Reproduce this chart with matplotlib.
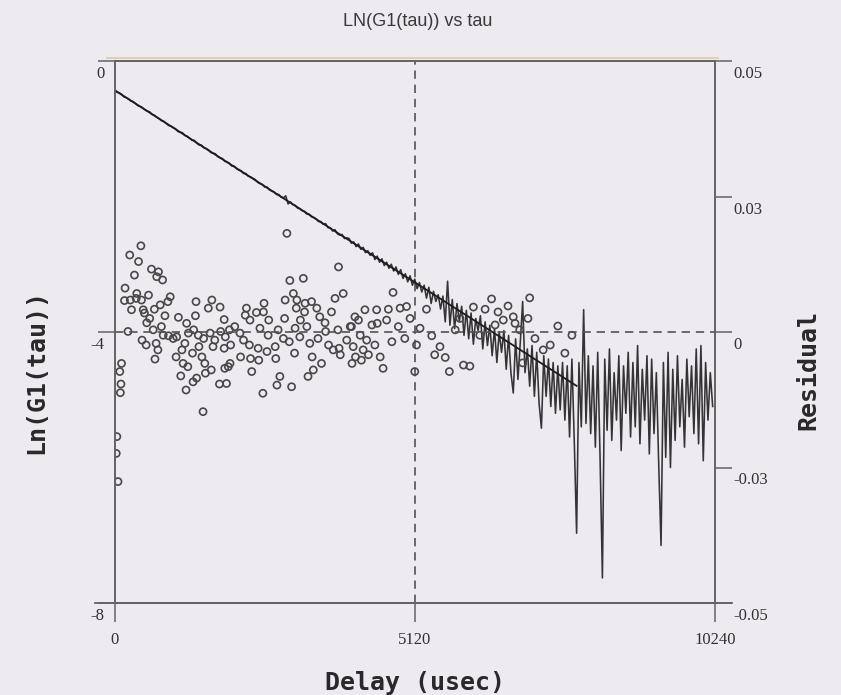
import numpy as np
import matplotlib
matplotlib.use('Agg')
import matplotlib.pyplot as plt
import matplotlib.transforms as mtransforms
from matplotlib import font_manager


# ln(G1) per correlator channel, channels 40 usec apart
channel_step = 40
ln_g1 = [
    -0.42, -0.46, -0.47, -0.49, -0.53, -0.54, -0.56, -0.59, -0.60, -0.63,
    -0.66, -0.67, -0.69, -0.72, -0.74, -0.75, -0.79, -0.80, -0.83, -0.85,
    -0.88, -0.89, -0.92, -0.95, -0.96, -0.98, -1.00, -1.04, -1.05, -1.06,
    -1.10, -1.11, -1.14, -1.17, -1.17, -1.21, -1.24, -1.24, -1.28, -1.29,
    -1.31, -1.35, -1.36, -1.37, -1.41, -1.43, -1.44, -1.48, -1.49, -1.51,
    -1.55, -1.55, -1.59, -1.61, -1.62, -1.66, -1.66, -1.70, -1.71, -1.73,
    -1.75, -1.79, -1.81, -1.82, -1.86, -1.86, -1.90, -1.92, -1.93, -1.97,
    -1.97, -2.01, -2.02, -1.99, -2.11, -2.08, -2.12, -2.13, -2.17, -2.18,
    -2.21, -2.22, -2.26, -2.26, -2.30, -2.31, -2.33, -2.37, -2.37, -2.41,
    -2.40, -2.46, -2.46, -2.51, -2.49, -2.55, -2.57, -2.56, -2.62, -2.61,
    -2.62, -2.69, -2.67, -2.74, -2.70, -2.78, -2.75, -2.83, -2.80, -2.87,
    -2.83, -2.93, -2.88, -2.97, -2.92, -3.02, -2.97, -3.06, -3.00, -3.10,
    -3.04, -3.15, -3.08, -3.21, -3.14, -3.26, -3.17, -3.31, -3.22, -3.36,
    -3.27, -3.41, -3.31, -3.50, -3.34, -3.58, -3.40, -3.55, -3.45, -3.66,
    -3.47, -3.85, -3.25, -3.90, -3.52, -3.95, -3.58, -3.84, -3.62, -4.05,
    -3.68, -4.10, -3.72, -4.18, -3.80, -3.98, -3.76, -4.25, -3.85, -4.20,
    -3.90, -4.35, -3.95, -4.45, -4.00, -4.30, -3.98, -4.55, -4.05, -4.60,
    -4.90, -4.10, -4.70, -4.15, -3.55, -4.60, -4.25, -4.80, -4.20, -4.95,
    -4.30, -5.05, -5.42, -4.35, -4.95, -4.40, -5.10, -4.45, -5.20, -4.50,
    -5.15, -4.45, -5.30, -4.50, -5.55, -4.40, -5.60, -6.97, -4.45, -5.40,
    -3.67, -5.35, -4.35, -5.50, -4.50, -5.70, -4.30, -5.85, -7.63, -4.40,
    -5.45, -4.25, -5.60, -4.60, -5.30, -4.35, -5.75, -4.50, -5.20, -4.30,
    -5.55, -4.45, -5.40, -4.20, -5.65, -4.55, -5.30, -4.35, -5.80, -4.40,
    -5.50, -4.60, -5.95, -7.15, -4.45, -5.85, -4.30, -6.00, -4.55, -5.60,
    -4.35, -5.40, -4.70, -5.70, -4.40, -5.25, -4.50, -5.50, -4.25, -5.65,
    -4.20, -5.90, -4.45, -5.30, -4.60, -5.10,
]

# straight line fit of ln(G1)
fit_intercept = -0.43
fit_slope = -5.54e-4
fit_last = 7880

# residuals of the fit (units of 1e-3)
resid_delay = [
    450, 260, 410, 340, 630, 750, 720, 820, 180, 380,
    270, 170, 370, 460, 580, 950, 910, 290, 490, 680,
    510, 860, 1090, 1230, 550, 230, 800, 660, 830, 920,
    1000, 1060, 470, 540, 710, 740, 690, 120, 90, 110,
    100, 40, 30, 60, 1130, 1170, 1220, 1340, 1400, 1510,
    1390, 1660, 1800, 1600, 1380, 1870, 1200, 1330, 1490, 1540,
    1550, 1650, 1790, 1880, 1970, 1260, 1350, 1430, 1520, 1630,
    1710, 1810, 1890, 1960, 1680, 1870, 1150, 1440, 1050, 1250,
    600, 780, 1980,
    2940, 3820, 2990, 3220, 3900, 3760, 2910, 3050, 3110, 3250,
    3360, 3450, 3100, 3240, 2250, 2420, 2540, 2230, 2310, 2900,
    3080, 3280, 3590, 3700, 3600, 3810, 4040, 2300, 2450, 2600,
    2740, 2320, 2460, 2750, 3070, 3370, 3530, 3830, 3850, 2340,
    2820, 2770, 3020, 2530, 3300, 3390, 1940, 1910, 2050, 2140,
    2200, 2480, 2620, 2790, 2880, 2980, 3160, 3330, 3470, 3650,
    3960, 2150, 2630, 2550, 3500, 3170, 4100,
    4750, 4470, 4670, 4870, 4980, 5320, 6430, 6120, 6320, 6540,
    6710, 4020, 4160, 4390, 4480, 4640, 4840, 4950, 5150, 5410,
    5550, 5460, 5640, 5710, 5950, 6060, 4580, 5120, 4190, 4300,
    4070, 4240, 4440, 4110, 4210, 4330, 4530, 4730, 4270, 5040,
    5210, 5810, 6230, 5890, 3730, 4050,
    7080, 6630, 6800, 6830, 7560, 7170, 7310, 7430, 7680, 6960,
    7800, 6910, 6490, 7050,
]
resid_milli = [
    15.9, 14.2, 13.0, 10.5, 11.6, 11.1, 10.2, 9.6, 8.1, 7.1,
    5.9, 5.8, 6.2, 5.9, 6.8, 6.5, 5.6, 4.1, 4.1, 4.2,
    3.5, 3.0, 2.7, 1.6, 1.7, 0.1, 1.0, 0.4, -0.6, -0.7,
    -1.2, -0.9, -1.5, -2.4, -2.1, -3.3, -5.0, -5.8, -7.3, -9.6,
    -11.2, -19.3, -22.4, -27.6, -8.1, -5.8, -10.7, -9.2, -8.5, -14.7,
    5.6, 5.9, 4.6, 4.4, 3.0, 2.3, -2.1, -3.9, -4.6, -5.8,
    -7.6, -7.0, -9.6, -6.7, -5.8, -0.2, 0.4, -0.6, -1.2, -0.2,
    -1.5, 0.1, -0.9, 0.4, -2.7, -3.0, -3.3, -2.7, -4.6, -6.4,
    2.5, 5.0, -2.4,
    18.2, 12.0, 9.5, 9.9, 7.1, 6.2, 5.9, 7.1, 5.9, 5.3,
    5.6, 4.4, 4.4, 3.7, 4.4, 3.6, 3.7, 3.1, 2.2, 2.5,
    0.7, 1.0, 1.7, 3.7, 0.1, 0.4, 1.0, -2.4, -3.0, -3.6,
    -2.7, -4.9, -5.2, -4.9, -3.9, -4.6, -5.8, -3.0, -4.2, -7.3,
    -8.2, -9.8, -10.1, -11.3, -8.2, -7.0, -6.4, -9.5, 1.0, -0.2,
    -1.5, 0.7, -0.6, 0.4, -1.2, -1.8, -0.9, -2.1, -1.2, -2.4,
    -1.5, -4.6, 2.2, 5.3, 2.8, 2.2, 2.8,
    7.3, 4.1, 4.2, 4.4, 4.7, 4.2, 6.1, 4.6, 4.2, 3.7,
    4.8, 1.0, 2.2, 1.3, 1.6, 2.2, 1.0, -1.2, -2.4, -0.7,
    -2.7, -4.2, -4.7, -7.3, -6.1, -6.3, -6.7, -7.3, -0.6, -1.5,
    -2.7, -3.3, -2.4, -4.6, -5.2, -4.2, -4.6, -1.8, 4.1, 2.5,
    0.7, 0.4, -0.6, 2.5, -3.3, -5.8,
    6.3, 2.2, 2.8, 1.6, 1.1, -1.2, -3.3, -2.4, -3.9, -5.7,
    -0.6, 0.4, 1.3, 2.5,
]

x_ticks = [0, 5120, 10240]
ln_ticks = [0, -4, -8]
resid_ticks = [0.05, 0.025, 0, -0.025, -0.05]
resid_tick_labels = ['0.05', '0.03', '0', '-0.03', '-0.05']

bg = '#edeaf0'
axis_grey = '#666266'
text_grey = '#333033'

installed = {f.name for f in font_manager.fontManager.ttflist}
title_font = 'Liberation Sans Narrow' if 'Liberation Sans Narrow' in installed else 'Liberation Sans'

format_label = dict(family='DejaVu Sans Mono', weight='bold', size=18, color='#2a282a')
format_dash = dict(color='#555255', lw=1.2, ls=(0, (5, 3.5)))


def shift_down(labels, fig, px):
    offset = mtransforms.ScaledTranslation(0, -px / 100.0, fig.dpi_scale_trans)
    for lab in labels:
        lab.set_transform(lab.get_transform() + offset)


fig = plt.figure(figsize=(8.41, 6.95), dpi=100, facecolor=bg)
ax = fig.add_axes([114.5 / 841, 1 - 603 / 695, 600.5 / 841, 542 / 695], facecolor=bg)
ax2 = ax.twinx()

delay = np.arange(len(ln_g1)) * channel_step
fit_delay = delay[delay <= fit_last]
fit_ln = fit_intercept + fit_slope * fit_delay

ax.plot(delay, ln_g1, color='#363336', lw=1.15, zorder=3)
ax.plot(fit_delay, fit_ln, color='#1e1c1e', lw=1.3, zorder=4)
ax.axvline(5120, **format_dash)

ax2.scatter(resid_delay, np.array(resid_milli) * 1e-3, s=26, facecolors='none',
            edgecolors='#4a474a', linewidths=1.2, zorder=2)
ax2.axhline(0, **format_dash)

ax.set_xlim(0, 10240)
ax.set_ylim(-8, 0)
ax2.set_ylim(-0.05, 0.05)

ax.set_xticks(x_ticks)
ax.set_xticklabels([str(v) for v in x_ticks], family='Liberation Serif', size=12, color=text_grey)
ax.set_yticks(ln_ticks)
ax.set_yticklabels([str(v) for v in ln_ticks], family='Liberation Serif', size=12, color=text_grey)
ax2.set_yticks(resid_ticks)
ax2.set_yticklabels(resid_tick_labels, family='Liberation Serif', size=12, color=text_grey)

ax.tick_params(axis='x', direction='out', length=14, width=1.1, color=axis_grey, pad=7)
ax.tick_params(axis='y', direction='out', length=12, width=1.1, color=axis_grey, pad=-5)
ax2.tick_params(axis='y', direction='out', length=12, width=1.1, color=axis_grey, pad=1)
shift_down(ax.get_yticklabels(), fig, 11)
shift_down(ax2.get_yticklabels(), fig, 11)

for a in (ax, ax2):
    for side in a.spines.values():
        side.set_color(axis_grey)
        side.set_linewidth(1.2)

# bottom rule runs a little past both spines, top rule has a tan edge from the scan
ax.plot([-0.032, 1.028], [0, 0], transform=ax.transAxes, color=axis_grey, lw=1.3, clip_on=False)
ax.plot([-0.012, 1.005], [1.005, 1.005], transform=ax.transAxes, color='#e2cfb0', lw=1.4, clip_on=False)

fig.text(418 / 841, 1 - 22 / 695, 'LN(G1(tau)) vs tau', family=title_font, size=13,
         color='#3a383a', ha='center', va='center')
fig.text(415 / 841, 1 - 683 / 695, 'Delay (usec)', ha='center', va='center', **format_label)
fig.text(36 / 841, 1 - 371 / 695, 'Ln(G1(tau))', rotation=90, ha='center', va='center', **format_label)
fig.text(808 / 841, 1 - 370 / 695, 'Residual', rotation=90, ha='center', va='center', **format_label)

fig.savefig('out.png', dpi=100, facecolor=bg)
